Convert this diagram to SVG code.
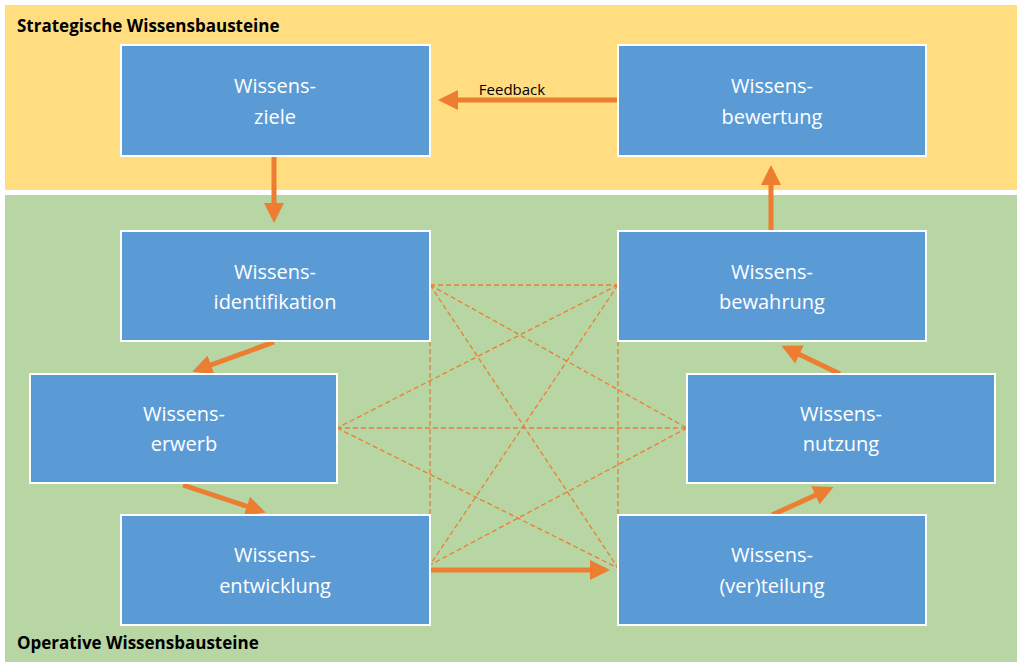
<svg xmlns="http://www.w3.org/2000/svg" width="1024" height="668" viewBox="0 0 1024 668">
<style>
.box{fill:#5B9BD5;stroke:#fff;stroke-width:2}
.t{font-family:"Open Sans","Liberation Sans",sans-serif;font-size:20px;fill:#fff;text-anchor:middle}
.h{font-family:"Open Sans","Liberation Sans",sans-serif;font-size:17px;font-weight:bold;fill:#000}
.a{stroke:#ED7D31;stroke-width:5;fill:none;marker-end:url(#ah)}
.d{stroke:#ED7D31;stroke-width:1.3;stroke-dasharray:5 3;fill:none}
</style>
<defs><marker id="ah" markerWidth="4" markerHeight="4" refX="3" refY="2" orient="auto" markerUnits="strokeWidth"><path d="M0,0L4,2L0,4Z" fill="#ED7D31"/></marker></defs>
<rect width="1024" height="668" fill="#fff"/>
<rect x="5" y="5" width="1012" height="185" fill="#FFDD80"/>
<rect x="5" y="195" width="1012" height="467" fill="#B7D6A3"/>
<text class="h" x="17" y="32">Strategische Wissensbausteine</text>
<text class="h" x="17" y="649">Operative Wissensbausteine</text>
<g id="connectors">
<path class="d" d="M430,285H618M430,341V515M618,341V515M337,428H687M430,285L687,428M430,285L618,568M618,285L337,428M618,285L430,565M337,428L618,568M687,428L430,565"/>
<line class="a" x1="274" y1="157" x2="274" y2="218"/>
<line class="a" x1="618" y1="100" x2="443" y2="100"/>
<line class="a" x1="771" y1="231" x2="771" y2="170"/>
<line class="a" x1="274" y1="342" x2="197" y2="370"/>
<line class="a" x1="183" y1="485" x2="261" y2="511"/>
<line class="a" x1="430" y1="570" x2="605" y2="570"/>
<line class="a" x1="772" y1="515" x2="829" y2="489"/>
<line class="a" x1="840" y1="374" x2="786" y2="348"/>
<text x="512" y="95" font-family="Open Sans,Liberation Sans,sans-serif" font-size="15" text-anchor="middle">Feedback</text>
</g>
<g id="ziele"><rect class="box" x="121" y="45" width="309" height="111"/><text class="t" x="275" y="93">Wissens-</text><text class="t" x="275" y="124">ziele</text></g>
<g id="bewertung"><rect class="box" x="618" y="45" width="308" height="111"/><text class="t" x="772" y="93">Wissens-</text><text class="t" x="772" y="124">bewertung</text></g>
<g id="identifikation"><rect class="box" x="121" y="231" width="309" height="110"/><text class="t" x="275" y="279">Wissens-</text><text class="t" x="275" y="309">identifikation</text></g>
<g id="bewahrung"><rect class="box" x="618" y="231" width="308" height="110"/><text class="t" x="772" y="279">Wissens-</text><text class="t" x="772" y="309">bewahrung</text></g>
<g id="erwerb"><rect class="box" x="30" y="374" width="307" height="109"/><text class="t" x="184" y="421">Wissens-</text><text class="t" x="184" y="451">erwerb</text></g>
<g id="nutzung"><rect class="box" x="687" y="374" width="308" height="109"/><text class="t" x="841" y="421">Wissens-</text><text class="t" x="841" y="451">nutzung</text></g>
<g id="entwicklung"><rect class="box" x="121" y="515" width="309" height="110"/><text class="t" x="275" y="562">Wissens-</text><text class="t" x="275" y="593">entwicklung</text></g>
<g id="verteilung"><rect class="box" x="618" y="515" width="308" height="110"/><text class="t" x="772" y="562">Wissens-</text><text class="t" x="772" y="593">(ver)teilung</text></g>
</svg>
